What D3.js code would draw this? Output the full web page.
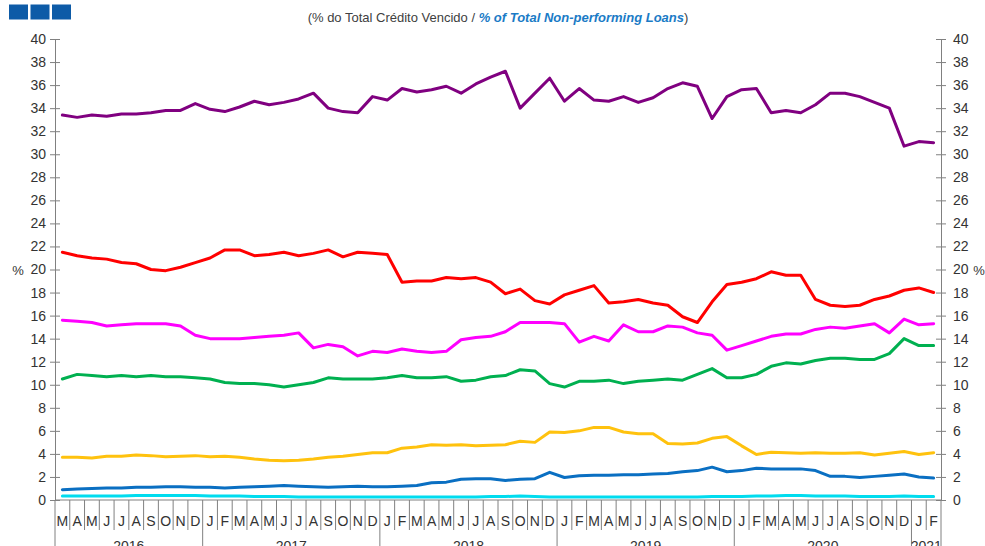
<!DOCTYPE html>
<html>
<head>
<meta charset="utf-8">
<script src="https://cdn.jsdelivr.net/npm/d3@7"></script>
<style>
  html, body { margin: 0; padding: 0; background: #fff; }
  svg { display: block; font-family: "Liberation Sans", Arial, sans-serif; }
</style>
</head>
<body>
<svg id="chart" width="985" height="546"></svg>
<script>
// ---- DATA ----
const monthLetters = ["J","F","M","A","M","J","J","A","S","O","N","D"];
const startMonth = 2; // March
const nMonths = 60;   // Mar 2016 .. Feb 2021
const years = ["2016","2017","2018","2019","2020","2021"];
const yTicks = [0,2,4,6,8,10,12,14,16,18,20,22,24,26,28,30,32,34,36,38,40];

const purple = [33.4,33.2,33.4,33.3,33.5,33.5,33.6,33.8,33.8,34.4,33.9,33.7,34.1,34.6,34.3,34.5,34.8,35.3,34.0,33.7,33.6,35.0,34.7,35.7,35.4,35.6,35.9,35.3,36.1,36.7,37.2,34.0,35.3,36.6,34.6,35.7,34.7,34.6,35.0,34.5,34.9,35.7,36.2,35.9,33.1,35.0,35.6,35.7,33.6,33.8,33.6,34.3,35.3,35.3,35.0,34.5,34.0,30.7,31.1,31.0];
const red = [21.5,21.2,21.0,20.9,20.6,20.5,20.0,19.9,20.2,20.6,21.0,21.7,21.7,21.2,21.3,21.5,21.2,21.4,21.7,21.1,21.5,21.4,21.3,18.9,19.0,19.0,19.3,19.2,19.3,18.9,17.9,18.3,17.3,17.0,17.8,18.2,18.6,17.1,17.2,17.4,17.1,16.9,15.9,15.4,17.2,18.7,18.9,19.2,19.8,19.5,19.5,17.4,16.9,16.8,16.9,17.4,17.7,18.2,18.4,18.0];
const magenta = [15.6,15.5,15.4,15.1,15.2,15.3,15.3,15.3,15.1,14.3,14.0,14.0,14.0,14.1,14.2,14.3,14.5,13.2,13.5,13.3,12.5,12.9,12.8,13.1,12.9,12.8,12.9,13.9,14.1,14.2,14.6,15.4,15.4,15.4,15.3,13.7,14.2,13.8,15.2,14.6,14.6,15.1,15.0,14.5,14.3,13.0,13.4,13.8,14.2,14.4,14.4,14.8,15.0,14.9,15.1,15.3,14.5,15.7,15.2,15.3];
const green = [10.5,10.9,10.8,10.7,10.8,10.7,10.8,10.7,10.7,10.6,10.5,10.2,10.1,10.1,10.0,9.8,10.0,10.2,10.6,10.5,10.5,10.5,10.6,10.8,10.6,10.6,10.7,10.3,10.4,10.7,10.8,11.3,11.2,10.1,9.8,10.3,10.3,10.4,10.1,10.3,10.4,10.5,10.4,10.9,11.4,10.6,10.6,10.9,11.6,11.9,11.8,12.1,12.3,12.3,12.2,12.2,12.7,14.0,13.4,13.4];
const yellow = [3.7,3.7,3.65,3.8,3.8,3.9,3.85,3.75,3.8,3.85,3.75,3.8,3.7,3.55,3.45,3.4,3.45,3.55,3.7,3.8,3.95,4.1,4.1,4.5,4.6,4.8,4.75,4.8,4.7,4.75,4.8,5.1,5.0,5.9,5.85,6.0,6.3,6.3,5.9,5.75,5.75,4.9,4.85,4.95,5.35,5.5,4.7,3.95,4.15,4.1,4.05,4.1,4.05,4.05,4.1,3.9,4.05,4.2,3.95,4.1];
const blue = [0.9,0.95,1.0,1.05,1.05,1.1,1.1,1.15,1.15,1.1,1.1,1.05,1.1,1.15,1.2,1.25,1.2,1.15,1.1,1.15,1.2,1.15,1.15,1.2,1.25,1.5,1.55,1.8,1.85,1.85,1.7,1.8,1.85,2.4,1.95,2.1,2.15,2.15,2.2,2.2,2.25,2.3,2.45,2.55,2.85,2.45,2.55,2.75,2.7,2.7,2.7,2.55,2.05,2.05,1.95,2.05,2.15,2.25,2.0,1.9];
const cyan = [0.35,0.35,0.35,0.35,0.35,0.4,0.4,0.4,0.4,0.4,0.35,0.35,0.35,0.3,0.3,0.3,0.25,0.25,0.25,0.25,0.25,0.25,0.25,0.25,0.25,0.25,0.25,0.25,0.25,0.3,0.3,0.35,0.3,0.25,0.25,0.25,0.25,0.25,0.25,0.25,0.25,0.25,0.25,0.25,0.3,0.3,0.3,0.35,0.35,0.4,0.4,0.35,0.35,0.35,0.3,0.3,0.3,0.35,0.3,0.3];

const seriesList = [
  {name: "cyan", values: cyan, color: "#00dcef"},
  {name: "blue", values: blue, color: "#0a6fc2"},
  {name: "yellow", values: yellow, color: "#ffc20e"},
  {name: "green", values: green, color: "#00b050"},
  {name: "magenta", values: magenta, color: "#ff00ff"},
  {name: "red", values: red, color: "#ff0000"},
  {name: "purple", values: purple, color: "#800080"}
];

// ---- LAYOUT ----
const plotLeft = 55, plotRight = 941, plotTop = 39, plotBottom = 500;
const svg = d3.select("#chart");
const idx = d3.range(nMonths);
const x = d3.scaleBand().domain(idx).range([plotLeft, plotRight]).padding(0);
const y = d3.scaleLinear().domain([0, 40]).range([plotBottom, plotTop]);
const axisColor = "#808080";
const textColor = "#333333";

// top-left squares
svg.append("g").selectAll("rect").data([0,1,2]).join("rect")
  .attr("x", d => 9 + d * 21.5).attr("y", 4.5)
  .attr("width", 19).attr("height", 15)
  .attr("fill", "#0d5ba7");

// title
const title = svg.append("text").attr("x", 498).attr("y", 22)
  .attr("text-anchor", "middle").attr("font-size", 13).attr("fill", "#404040");
title.append("tspan").text("(% do Total Crédito Vencido / ");
title.append("tspan").attr("fill", "#1a7bc6").attr("font-weight", "bold").attr("font-style", "italic")
  .text("% of Total Non-performing Loans");
title.append("tspan").text(")");

// y axes
function styleAxis(g, dir) {
  g.attr("font-family", null);
  g.select(".domain").attr("stroke", axisColor);
  g.selectAll(".tick line").attr("stroke", axisColor).attr("x1", -5 * dir).attr("x2", 5 * dir);
  g.selectAll(".tick text").attr("fill", textColor).attr("font-size", 14);
}
const gl = svg.append("g").attr("transform", `translate(${plotLeft},0)`)
  .call(d3.axisLeft(y).tickValues(yTicks).tickFormat(d3.format("d")).tickSize(5).tickPadding(4).tickSizeOuter(0));
styleAxis(gl, 1);
const gr = svg.append("g").attr("transform", `translate(${plotRight},0)`)
  .call(d3.axisRight(y).tickValues(yTicks).tickFormat(d3.format("d")).tickSize(5).tickPadding(7).tickSizeOuter(0));
styleAxis(gr, -1);

// % labels
svg.append("text").attr("x", 18).attr("y", y(20) + 5).attr("text-anchor", "middle")
  .attr("font-size", 13).attr("fill", textColor).text("%");
svg.append("text").attr("x", 979).attr("y", y(20) + 5).attr("text-anchor", "middle")
  .attr("font-size", 13).attr("fill", textColor).text("%");

// x axis line
svg.append("line").attr("x1", plotLeft).attr("x2", plotRight).attr("y1", plotBottom).attr("y2", plotBottom)
  .attr("stroke", axisColor);

// month separators and labels
const monthOf = i => (startMonth + i) % 12;
const boundaries = d3.range(nMonths + 1);
const isYearBoundary = b => b === 0 || b === nMonths || monthOf(b) === 0;
const edgeX = b => b < nMonths ? x(b) : x(nMonths - 1) + x.bandwidth();
svg.append("g").selectAll("line").data(boundaries).join("line")
  .attr("x1", edgeX)
  .attr("x2", edgeX)
  .attr("y1", plotBottom)
  .attr("y2", b => isYearBoundary(b) ? 546 : 530)
  .attr("stroke", axisColor);

svg.append("g").selectAll("text").data(idx).join("text")
  .attr("x", i => x(i) + x.bandwidth() / 2)
  .attr("y", 526)
  .attr("text-anchor", "middle")
  .attr("font-size", 14)
  .attr("fill", textColor)
  .text(i => monthLetters[monthOf(i)]);

// year labels
const yearStarts = [0].concat(idx.filter(i => i > 0 && monthOf(i) === 0));
svg.append("g").selectAll("text").data(years).join("text")
  .attr("x", (d, k) => {
    const s = yearStarts[k];
    const e = k + 1 < yearStarts.length ? yearStarts[k + 1] : nMonths;
    return (x(s) + edgeX(e)) / 2;
  })
  .attr("y", 551)
  .attr("text-anchor", "middle")
  .attr("font-size", 14)
  .attr("fill", textColor)
  .text(d => d);

// lines
const line = d3.line()
  .x((d, i) => x(i) + x.bandwidth() / 2)
  .y(d => y(d));
svg.append("g").selectAll("path").data(seriesList).join("path")
  .attr("d", s => line(s.values))
  .attr("fill", "none")
  .attr("stroke", s => s.color)
  .attr("stroke-width", 3)
  .attr("stroke-linejoin", "round")
  .attr("stroke-linecap", "round");
</script>
</body>
</html>
